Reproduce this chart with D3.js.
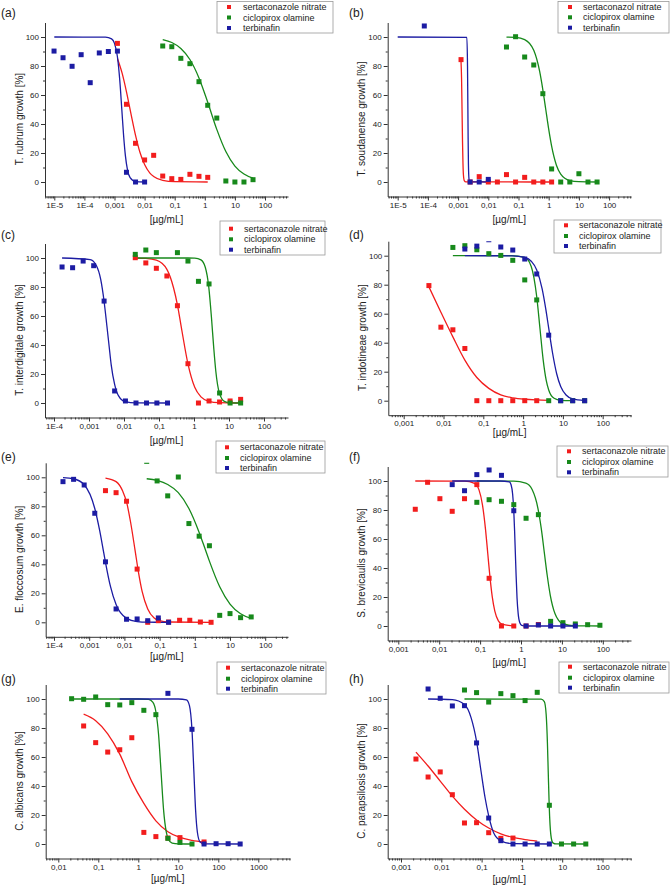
<!DOCTYPE html>
<html><head><meta charset="utf-8">
<script src="https://cdn.jsdelivr.net/npm/d3@7"></script>
<style>body{margin:0;background:#fff}svg{display:block}text{font-family:"Liberation Sans",Arial,sans-serif;fill:#222}</style>
</head><body><svg id="c" width="672" height="887"></svg>
<script>
// ---------- labels ----------
const panelLetters = ["(a)","(b)","(c)","(d)","(e)","(f)","(g)","(h)"];
const yTitles = ["T. rubrum growth [%]","T. soudanense growth [%]","T. interdigitale growth [%]","T. indotineae growth [%]",
  "E. floccosum growth [%]","S. brevicaulis growth [%]","C. albicans growth [%]","C. parapsilosis growth [%]"];
const xTitle = "[µg/mL]";
const legendStd = ["sertaconazole nitrate","ciclopirox olamine","terbinafin"];
const legendB = ["sertaconazol nitrate","ciclopirox olamine","terbinafin"];
const xTicksAB = ["1E-5","1E-4","0,001","0,01","0,1","1","10","100"];
const xTicksCE = ["1E-4","0,001","0,01","0,1","1","10","100"];
const xTicksDFH = ["0,001","0,01","0,1","1","10","100"];
const xTicksG = ["0,01","0,1","1","10","100","1000"];
const yTickVals = [0,20,40,60,80,100];

// ---------- data: [concentration µg/mL, growth %] ----------
// (a) T. rubrum
const aSertPts = [[0.00125,95.6],[0.0025,53.6],[0.005,26.7],[0.01,15.2],[0.02,18.4],[0.04,4.1],[0.08,2.3],[0.16,1.8],[0.32,5.3],[0.64,3.9],[1.25,3.2]];
const aCicloPts = [[0.04,93.8],[0.08,93.3],[0.16,85.3],[0.32,81.6],[0.64,69.2],[1.25,52.9],[2.5,44.1],[5,0.7],[10,0],[20,0],[40,1.6]];
const aTerbPts = [[9.8e-6,90.3],[1.95e-5,85.7],[3.9e-5,79.8],[7.8e-5,87.8],[1.56e-4,68.5],[3.125e-4,89],[6.25e-4,90],[1.25e-3,90.3],[2.5e-3,6.7],[5e-3,0],[0.01,0]];
const aSertFit = [[0.00125,85.2],[0.0018,74.9],[0.0025,62.2],[0.0035,47.4],[0.005,32.2],[0.007,20.5],[0.01,12],[0.015,6.1],[0.02,3.8],[0.04,1.1],[0.1,0.2],[1.25,0]];
const aCicloFit = [[0.04,98.2],[0.08,96.2],[0.16,92.1],[0.32,84.5],[0.64,71.8],[1.25,55],[2.5,36.3],[5,21],[10,11],[20,5.5],[40,2.6]];
const aTerbFit = [[1e-5,100],[5e-4,99.9],[8e-4,98.7],[0.001,95.6],[0.00125,86.4],[0.0015,70],[0.00175,50],[0.002,32.4],[0.0023,18.2],[0.0027,8.4],[0.0033,3],[0.005,0.3],[0.01,0]];
// (b) T. soudanense
const bSertPts = [[0.00125,84.4],[0.0025,0],[0.005,3.7],[0.01,0],[0.02,0],[0.04,5.1],[0.08,0],[0.16,3.2],[0.32,0],[0.64,0],[1.25,0]];
const bCicloPts = [[0.04,93.1],[0.08,100.2],[0.16,86.2],[0.32,80.7],[0.64,60.9],[1.25,9],[2.5,0],[5,0],[10,5.7],[20,0],[40,0]];
const bTerbPts = [[7.6e-5,107.6],[0.0025,0],[0.005,0],[0.01,1.8]];
const bSertFit = [[0.00125,83],[0.0013,72],[0.00135,50],[0.0014,28],[0.00145,13],[0.0015,5],[0.0016,1],[0.0018,0.1],[1.25,0]];
const bCicloFit = [[0.04,99.9],[0.08,99.7],[0.16,98.2],[0.32,90.8],[0.5,76.4],[0.64,63.6],[0.8,50],[1,36.4],[1.25,24.7],[1.8,11.6],[2.5,5.5],[5,1],[10,0.2],[40,0]];
const bTerbFit = [[1e-5,100],[0.00195,99.7],[0.00205,80],[0.0021,55],[0.00215,30],[0.0022,12],[0.0023,2],[0.0025,0.1],[0.01,0]];
// (c) T. interdigitale
const cSertPts = [[0.021,100.2],[0.042,96.6],[0.084,92.9],[0.168,87.6],[0.336,67.1],[0.672,27.1],[1.34,0],[2.69,1.4],[5.38,0.7],[10.75,1.4],[21.5,2.5]];
const cCicloPts = [[0.021,102.5],[0.042,105.5],[0.084,103.7],[0.336,103.7],[0.672,97.9],[1.34,83.9],[2.69,82.1],[5.38,6.9],[10.75,0],[21.5,0]];
const cTerbPts = [[1.7e-4,93.8],[3.4e-4,93.3],[6.8e-4,97.9],[0.00136,94.7],[0.0027,70.3],[0.0054,8.3],[0.011,1.4],[0.022,0],[0.044,0],[0.087,0],[0.175,0]];
const cSertFit = [[0.021,99.95],[0.042,99.7],[0.084,98.5],[0.168,92.2],[0.26,79.5],[0.336,67.7],[0.45,50],[0.672,27],[1.05,10.8],[1.58,4.2],[2.63,1.2],[5.25,0.2],[21.5,0]];
const cCicloFit = [[0.021,100],[0.672,99.99],[1.05,99.9],[1.58,98.7],[2.1,93.6],[2.63,80.4],[3.15,59.1],[3.68,37.5],[4.2,21.9],[5.25,7.3],[7.35,1.1],[10.5,0.15],[21.5,0]];
const cTerbFit = [[1.7e-4,100],[0.00108,98.9],[0.00162,94.8],[0.00216,85.2],[0.0027,70],[0.00324,53.3],[0.0038,38.1],[0.0043,26.5],[0.0054,12.9],[0.007,4.9],[0.0108,0.9],[0.0216,0.06],[0.175,0]];
// (d) T. indotineae
const dSertPts = [[0.0043,79.4],[0.0086,50.7],[0.0172,48.9],[0.0344,36],[0.0688,0],[0.1376,0],[0.275,0],[0.55,0],[1.1,0],[2.2,0]];
const dCicloPts = [[0.0172,105.7],[0.0344,106.9],[0.0688,104.1],[0.1376,101.4],[0.275,100.2],[0.55,96.8],[1.1,83.3],[2.2,69.5],[4.4,0],[8.8,0],[17.6,0],[35.2,0]];
const dTerbPts = [[0.0344,104.6],[0.0688,106.6],[0.1376,111],[0.275,106],[0.55,103.9],[1.1,97.7],[2.2,87.4],[4.4,45.2],[8.8,0],[17.6,0],[35.2,0]];
const dSertFit = [[0.0043,78.5],[0.0086,61],[0.0172,44],[0.0344,28],[0.0688,16],[0.1376,8.5],[0.275,4],[0.55,2],[1.1,1],[2.2,0.5],[4.4,0.2]];
const dCicloFit = [[0.0172,100],[0.5,100],[1.1,98.8],[1.6,92.6],[2.2,71.7],[2.65,50],[3.2,28],[3.8,14.2],[4.4,7.4],[6,1.65],[8.8,0.25],[17.6,0]];
const dTerbFit = [[0.0344,100],[0.55,99.9],[1.1,98.8],[1.6,96.2],[2.2,90.2],[3,77.3],[3.7,63.5],[4.4,50],[5.5,32.9],[7,18.4],[8.8,9.8],[12,3.9],[17.6,1.2],[35.2,0.1]];
// (e) E. floccosum
const eSertPts = [[0.0029,90.8],[0.0058,89.4],[0.0115,83.5],[0.023,36.7],[0.046,0],[0.092,1.1],[0.18,0.2],[0.37,1.4],[0.72,1.4],[1.44,0.2],[2.9,0]];
const eCicloPts = [[0.043,111],[0.085,97.5],[0.17,87.2],[0.34,100.2],[0.68,68.1],[1.33,59.4],[2.6,52.8],[5.1,4.8],[10,6],[20,3.2],[40,3.7]];
const eTerbPts = [[1.8e-4,97],[3.6e-4,98.6],[7.2e-4,94.7],[0.00144,75.2],[0.0029,41.7],[0.0058,9.2],[0.0115,2.1],[0.023,2.3],[0.046,1.1],[0.092,3],[0.18,0]];
const eSertFit = [[0.0029,99.5],[0.0058,97],[0.009,90.3],[0.0115,83],[0.015,69],[0.02,50],[0.025,34.8],[0.032,21.1],[0.046,9.2],[0.07,2.9],[0.1,1.1],[0.18,0.2],[2.9,0]];
const eCicloFit = [[0.043,99],[0.085,97.8],[0.17,95],[0.34,89.4],[0.68,78.5],[1.33,62],[2,50],[2.6,42.2],[5.1,24.5],[10,12.6],[20,5.9],[40,2.7]];
const eTerbFit = [[1.8e-4,99.8],[3.6e-4,99],[7.2e-4,94.9],[0.00144,78.5],[0.002,62.8],[0.0025,50],[0.0029,41.4],[0.004,24.9],[0.0058,12.2],[0.0115,2.7],[0.023,0.5],[0.046,0.1],[0.18,0]];
// (f) S. brevicaulis
const fSertPts = [[0.0026,80.5],[0.0052,99.1],[0.0104,87.8],[0.0208,79.1],[0.0416,87.8],[0.0832,97.5],[0.166,32.9],[0.333,0],[0.666,0],[1.33,0],[2.66,1]];
const fCicloPts = [[0.0832,85.3],[0.166,87.1],[0.333,86],[0.666,83.7],[1.33,74.3],[2.66,76.8],[5.3,3.2],[10.6,2.3],[21.3,1.4],[42.6,0.9],[85,0.5]];
const fTerbPts = [[0.0208,97.5],[0.0416,93.3],[0.0832,104.4],[0.166,107.6],[0.333,103.9],[0.666,79.5],[1.33,0],[2.66,0.7],[5.3,0],[10.6,0],[21.3,0]];
const fSertFit = [[0.0026,100],[0.0416,99.9],[0.073,98.4],[0.094,93.9],[0.114,83.7],[0.135,67.2],[0.154,50],[0.172,35.4],[0.198,20.2],[0.229,10.2],[0.28,3.5],[0.333,1.4],[0.666,0]];
const fCicloFit = [[0.0832,100],[0.666,99.9],[1.31,98.5],[1.87,94.1],[2.6,81],[3.12,67.5],[3.74,50],[4.37,35],[5.2,21.2],[6.76,8.6],[8.3,3.9],[10.4,1.65],[20.8,0.1],[85,0]];
const fTerbFit = [[0.0208,100],[0.31,100],[0.52,99.4],[0.572,97.4],[0.624,91],[0.666,79.4],[0.697,65.8],[0.728,50],[0.76,34.7],[0.8,19.3],[0.853,8.5],[0.936,2.2],[1.04,0.5],[1.33,0],[21.3,0]];
// (g) C. albicans
const gSertPts = [[0.043,81.4],[0.086,69.9],[0.172,63.4],[0.344,65],[0.688,73.3],[1.376,8],[2.75,5.1],[5.5,4.1],[11,4.4],[44,1.4]];
const gCicloPts = [[0.0215,100.2],[0.043,99.8],[0.086,101.4],[0.172,96.1],[0.344,95.9],[0.688,97.5],[1.376,92.2],[2.75,89.2],[5.5,3.9],[11,1.1],[22,0]];
const gTerbPts = [[5.5,103.9],[22,79.1],[44,0],[88,0.2],[176,0.2],[352,0]];
const gSertFit = [[0.043,89.5],[0.086,85],[0.172,76],[0.344,62],[0.688,43],[1.376,28],[2.75,16],[5.5,8.5],[11,4.5],[22,2.5],[44,1.3]];
const gCicloFit = [[0.0215,100],[1,100],[1.8,99.7],[2.3,97.8],[2.75,91.2],[3.2,76],[3.7,50],[4.3,23],[5,8.3],[5.6,3.5],[7,0.6],[10,0.03],[22,0]];
const gTerbFit = [[0.344,100],[10,100],[16,99.4],[19,95.4],[22,78.4],[24.5,50],[27,23.8],[30,8.1],[35,1.4],[45,0.1],[352,0]];
// (h) C. parapsilosis
const hSertPts = [[0.00235,58.6],[0.0047,46.2],[0.0094,49.7],[0.0188,34],[0.0376,14.5],[0.075,14.7],[0.15,7.8],[0.3,3.9],[0.6,4.1]];
const hCicloPts = [[0.0376,106.2],[0.075,104.4],[0.15,97.9],[0.3,103.7],[0.6,102.3],[1.2,98.9],[2.4,104.6],[4.8,26.7],[9.6,0],[19.2,0],[38.5,0]];
const hTerbPts = [[0.0047,106.9],[0.0094,100.5],[0.0188,95.2],[0.0376,95.4],[0.075,69.7],[0.15,17.9],[0.3,2.3],[0.6,0],[1.2,0],[2.4,0],[4.8,0]];
const hSertFit = [[0.00235,63.4],[0.0047,53.8],[0.0094,43.4],[0.0188,33],[0.0376,24],[0.075,16.6],[0.15,11],[0.3,7],[0.6,4.5],[1.2,3],[2.4,2]];
const hCicloFit = [[0.0376,100],[3,99.9],[3.6,98.2],[4,89.3],[4.3,69.5],[4.5,50],[4.75,27.3],[5,13],[5.5,2.6],[6,0.6],[7,0.04],[38.5,0]];
const hTerbFit = [[0.0047,100],[0.0188,99.6],[0.0376,96.2],[0.055,87],[0.075,70.8],[0.097,50],[0.122,31.9],[0.15,19.4],[0.2,7.6],[0.3,2.2],[0.6,0.2],[4.8,0]];

// ---------- layout ----------
const colors = ["#f21d1d","#17891b","#1c1ca3"];
const panels = [
  {i:0,legend:legendStd,xt:xTicksAB,d0:-5,p0:54.3,k:30.1,left:45,right:288,y0:182,xtOff:23,lx:217,ly:1.5,lw:116,lh:31.5,rows:[7,17.5,28],mx:229,tx:243,ltx:1,lty:17,
   series:[[aSertPts,aSertFit],[aCicloPts,aCicloFit],[aTerbPts,aTerbFit]]},
  {i:1,legend:legendB,xt:xTicksAB,d0:-5,p0:397.7,k:30.2,left:387.7,right:631,y0:182,xtOff:23,lx:558,ly:1.5,lw:111,lh:31.5,rows:[7,17.3,27.7],mx:570,tx:583,ltx:349,lty:17,
   series:[[bSertPts,bSertFit],[bCicloPts,bCicloFit],[bTerbPts,bTerbFit]]},
  {i:2,legend:legendStd,xt:xTicksCE,d0:-4,p0:54,k:35,left:45,right:288,y0:403,xtOff:22.5,lx:220,ly:221,lw:105,lh:34,rows:[228.7,239.3,249.7],mx:231,tx:244,ltx:1,lty:239,
   series:[[cSertPts,cSertFit],[cCicloPts,cCicloFit],[cTerbPts,cTerbFit]]},
  {i:3,legend:legendStd,xt:xTicksDFH,d0:-3,p0:403.7,k:39.8,left:388.3,right:631,y0:400.7,xtOff:17.5,lx:554,ly:220,lw:107,lh:33,rows:[225.3,236,246],mx:566,tx:579,ltx:349,lty:239,
   series:[[dSertPts,dSertFit],[dCicloPts,dCicloFit],[dTerbPts,dTerbFit]]},
  {i:4,legend:legendStd,xt:xTicksCE,d0:-4,p0:54,k:35.2,left:45.7,right:288,y0:622.3,xtOff:20,lx:216,ly:441,lw:109,lh:32,rows:[447.3,458,468],mx:227,tx:240,ltx:1,lty:461,
   series:[[eSertPts,eSertFit],[eCicloPts,eCicloFit],[eTerbPts,eTerbFit]]},
  {i:5,legend:legendStd,xt:xTicksDFH,d0:-3,p0:398.3,k:40.9,left:387.7,right:631,y0:626,xtOff:21.5,lx:557,ly:446,lw:111,lh:31,rows:[451.3,462,472.3],mx:569,tx:582,ltx:349,lty:461,
   series:[[fSertPts,fSertFit],[fCicloPts,fCicloFit],[fTerbPts,fTerbFit]]},
  {i:6,legend:legendStd,xt:xTicksG,d0:-2,p0:58.3,k:40,left:45.7,right:290,y0:844,xtOff:20,lx:217,ly:662,lw:109,lh:32,rows:[667.7,678.7,688.7],mx:228,tx:241,ltx:1,lty:683,
   series:[[gSertPts,gSertFit],[gCicloPts,gCicloFit],[gTerbPts,gTerbFit]]},
  {i:7,legend:legendStd,xt:xTicksDFH,d0:-3,p0:401,k:40.3,left:387.7,right:631,y0:844,xtOff:20.5,lx:559,ly:662,lw:110,lh:31,rows:[666.7,677.7,687.7],mx:570,tx:583,ltx:349,lty:683,
   series:[[hSertPts,hSertFit],[hCicloPts,hCicloFit],[hTerbPts,hTerbFit]]}
];

const svg = d3.select("#c");
svg.append("rect").attr("width",672).attr("height",887).attr("fill","#fff");
const defs = svg.append("defs");

panels.forEach(p => {
  const g = svg.append("g");
  const lo = p.d0 - (p.p0 - p.left)/p.k, hi = p.d0 + (p.right - p.p0)/p.k;
  const x = d3.scaleLog().domain([Math.pow(10,lo), Math.pow(10,hi)]).range([p.left, p.right]);
  const y = d3.scaleLinear().domain([-10,110]).range([p.y0 + 14.5, p.y0 - 159.5]);
  const bottom = y(-10), top = y(110);

  const cid = "clip" + p.i;
  defs.append("clipPath").attr("id", cid).append("rect")
    .attr("x", p.left - 6).attr("y", top).attr("width", p.right - p.left + 12).attr("height", bottom - top);

  // x axis
  const majors = p.xt.map((t, j) => Math.pow(10, p.d0 + j));
  const minors = [];
  for (let d = Math.floor(lo); d <= Math.ceil(hi); d++)
    for (let m = 2; m <= 9; m++) { const v = m * Math.pow(10, d); if (v >= x.domain()[0] && v <= x.domain()[1]) minors.push(v); }
  g.append("g").attr("transform", `translate(0,${bottom})`)
    .call(d3.axisBottom(x).tickValues(minors).tickSize(2).tickSizeOuter(0).tickFormat(""))
    .call(a => a.select(".domain").remove());
  const xa = g.append("g").attr("transform", `translate(0,${bottom})`)
    .call(d3.axisBottom(x).tickValues(majors).tickSize(4).tickSizeOuter(0).tickPadding(1.5).tickFormat((d, j) => p.xt[j]));
  xa.selectAll("text").attr("font-size", 8).attr("fill", "#222").style("font-family", "Liberation Sans, Arial, sans-serif");

  // y axis
  g.append("g").attr("transform", `translate(${p.left},0)`)
    .call(d3.axisLeft(y).tickValues([10,30,50,70,90]).tickSize(2).tickFormat(""))
    .call(a => a.select(".domain").remove());
  const ya = g.append("g").attr("transform", `translate(${p.left},0)`)
    .call(d3.axisLeft(y).tickValues(yTickVals).tickSize(4).tickSizeOuter(0).tickPadding(2));
  ya.selectAll("text").attr("font-size", 8).attr("fill", "#222").style("font-family", "Liberation Sans, Arial, sans-serif");
  g.selectAll(".domain, .tick line").attr("stroke", "#333");

  // titles
  g.append("text").attr("x", (p.left + p.right) / 2).attr("y", bottom + p.xtOff).attr("dy", "0.35em")
    .attr("text-anchor", "middle").attr("font-size", 10).text(xTitle);
  g.append("text").attr("transform", `translate(${p.left - 26},${p.y0 - 63}) rotate(-90)`).attr("dy", "0.35em")
    .attr("text-anchor", "middle").attr("font-size", 10).text(yTitles[p.i]);
  g.append("text").attr("x", p.ltx).attr("y", p.lty).attr("font-size", 12).text(panelLetters[p.i]);

  // series
  const line = d3.line().x(d => x(d[0])).y(d => y(d[1])).curve(d3.curveMonotoneX);
  const plot = g.append("g").attr("clip-path", `url(#${cid})`);
  p.series.forEach((s, si) => {
    plot.append("path").attr("d", line(s[1])).attr("fill", "none").attr("stroke", colors[si]).attr("stroke-width", 1.3);
  });
  p.series.forEach((s, si) => {
    plot.selectAll(null).data(s[0]).enter().append("rect")
      .attr("x", d => x(d[0]) - 2.5).attr("y", d => y(d[1]) - 2.5).attr("width", 5).attr("height", 5)
      .attr("fill", colors[si]);
  });

  // legend
  const lg = svg.append("g");
  lg.append("rect").attr("x", p.lx).attr("y", p.ly).attr("width", p.lw).attr("height", p.lh)
    .attr("fill", "#fff").attr("stroke", "#999").attr("stroke-width", 0.8);
  p.legend.forEach((name, li) => {
    lg.append("rect").attr("x", p.mx - 2).attr("y", p.rows[li] - 2).attr("width", 4).attr("height", 4).attr("fill", colors[li]);
    lg.append("text").attr("x", p.tx).attr("y", p.rows[li]).attr("dy", "0.35em").attr("font-size", 9).text(name);
  });
});
</script></body></html>
